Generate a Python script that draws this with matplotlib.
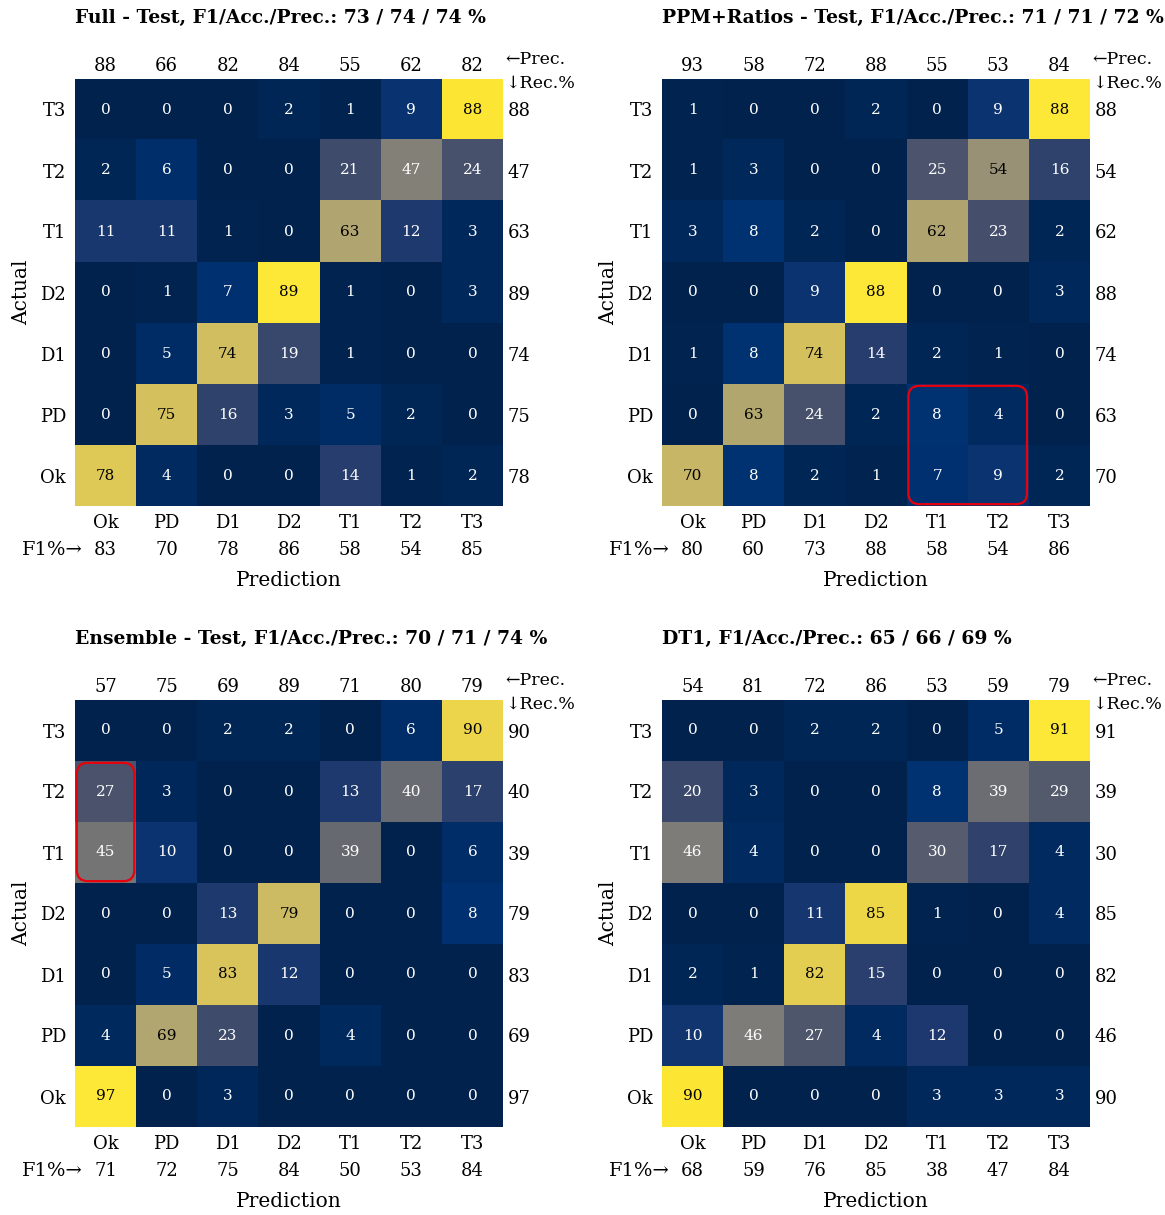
import numpy as np
import matplotlib.pyplot as plt
from matplotlib.patches import FancyBboxPatch

plt.rcParams['font.family'] = ['DejaVu Serif']

classes = ["Ok", "PD", "D1", "D2", "T1", "T2", "T3"]

# rows = actual class (Ok..T3), cols = predicted class (Ok..T3), row-normalised %
full_cm = [[78, 4, 0, 0, 14, 1, 2],
           [0, 75, 16, 3, 5, 2, 0],
           [0, 5, 74, 19, 1, 0, 0],
           [0, 1, 7, 89, 1, 0, 3],
           [11, 11, 1, 0, 63, 12, 3],
           [2, 6, 0, 0, 21, 47, 24],
           [0, 0, 0, 2, 1, 9, 88]]
full_prec = [88, 66, 82, 84, 55, 62, 82]
full_f1 = [83, 70, 78, 86, 58, 54, 85]
full_title = "Full - Test, F1/Acc./Prec.: 73 / 74 / 74 %"

ppm_cm = [[70, 8, 2, 1, 7, 9, 2],
          [0, 63, 24, 2, 8, 4, 0],
          [1, 8, 74, 14, 2, 1, 0],
          [0, 0, 9, 88, 0, 0, 3],
          [3, 8, 2, 0, 62, 23, 2],
          [1, 3, 0, 0, 25, 54, 16],
          [1, 0, 0, 2, 0, 9, 88]]
ppm_prec = [93, 58, 72, 88, 55, 53, 84]
ppm_f1 = [80, 60, 73, 88, 58, 54, 86]
ppm_title = "PPM+Ratios - Test, F1/Acc./Prec.: 71 / 71 / 72 %"

ens_cm = [[97, 0, 3, 0, 0, 0, 0],
          [4, 69, 23, 0, 4, 0, 0],
          [0, 5, 83, 12, 0, 0, 0],
          [0, 0, 13, 79, 0, 0, 8],
          [45, 10, 0, 0, 39, 0, 6],
          [27, 3, 0, 0, 13, 40, 17],
          [0, 0, 2, 2, 0, 6, 90]]
ens_prec = [57, 75, 69, 89, 71, 80, 79]
ens_f1 = [71, 72, 75, 84, 50, 53, 84]
ens_title = "Ensemble - Test, F1/Acc./Prec.: 70 / 71 / 74 %"

dt1_cm = [[90, 0, 0, 0, 3, 3, 3],
          [10, 46, 27, 4, 12, 0, 0],
          [2, 1, 82, 15, 0, 0, 0],
          [0, 0, 11, 85, 1, 0, 4],
          [46, 4, 0, 0, 30, 17, 4],
          [20, 3, 0, 0, 8, 39, 29],
          [0, 0, 2, 2, 0, 5, 91]]
dt1_prec = [54, 81, 72, 86, 53, 59, 79]
dt1_f1 = [68, 59, 76, 85, 38, 47, 84]
dt1_title = "DT1, F1/Acc./Prec.: 65 / 66 / 69 %"

# highlighted blocks: (col0, col1, row0, row1) in class indices
ppm_box = (4, 5, 0, 1)
ens_box = (0, 0, 4, 5)

fig = plt.figure(figsize=(11.65, 12.15), dpi=100)

W, H = 1165, 1215
aw, ah = 428 / W, 427 / H
pos = [(75 / W, 1 - 506 / H), (662 / W, 1 - 506 / H),
       (75 / W, 1 - 1127 / H), (662 / W, 1 - 1127 / H)]

panels = [(full_cm, full_prec, full_f1, full_title, None),
          (ppm_cm, ppm_prec, ppm_f1, ppm_title, ppm_box),
          (ens_cm, ens_prec, ens_f1, ens_title, ens_box),
          (dt1_cm, dt1_prec, dt1_f1, dt1_title, None)]

for i, (cm, prec, f1, title, box) in enumerate(panels):
    cm = np.array(cm)
    ax = fig.add_axes([pos[i][0], pos[i][1], aw, ah])
    vmax = cm.max()
    ax.imshow(cm, cmap='cividis', vmin=0, vmax=vmax, origin='lower',
              aspect='auto', extent=(-0.5, 6.5, -0.5, 6.5))
    for r in range(7):
        for c in range(7):
            v = cm[r, c]
            col = 'black' if v / vmax > 0.6 else 'white'
            ax.text(c, r, str(v), ha='center', va='center', color=col, fontsize=11)

    for s in ax.spines.values():
        s.set_visible(False)
    ax.set_xticks(range(7), classes)
    ax.set_yticks(range(7), classes)
    ax.tick_params(length=0, labelsize=13)
    ax.tick_params(axis='x', pad=6)
    ax.tick_params(axis='y', pad=6.5)
    ax.set_xlim(-0.5, 6.5)
    ax.set_ylim(-0.5, 6.5)

    top = ax.secondary_xaxis('top')
    top.set_xticks(range(7), [str(p) for p in prec])
    top.tick_params(length=0, labelsize=13, pad=3)
    top.spines['top'].set_visible(False)

    bot = ax.secondary_xaxis('bottom')
    bot.set_xticks(range(7), [str(p) for p in f1])
    bot.tick_params(length=0, labelsize=13, pad=25.5)
    bot.spines['bottom'].set_visible(False)

    right = ax.secondary_yaxis('right')
    right.set_yticks(range(7), [str(cm[k, k]) for k in range(7)])
    right.tick_params(length=0, labelsize=13, pad=3.5)
    right.spines['right'].set_visible(False)

    ax.set_xlabel("Prediction", fontsize=14.5, labelpad=28)
    ax.set_ylabel("Actual", fontsize=14.5, labelpad=6)

    ax.text(0, 1.143, title, transform=ax.transAxes, ha='left', va='center',
            fontsize=13.5, fontweight='bold')
    ax.text(1.005, 1.045, "\u2190Prec.", transform=ax.transAxes, ha='left',
            va='center', fontsize=12.5)
    ax.text(1.005, 0.99, "\u2193Rec.%", transform=ax.transAxes, ha='left',
            va='center', fontsize=12.5)
    ax.text(0.018, -0.103, "F1%\u2192", transform=ax.transAxes, ha='right',
            va='center', fontsize=14)

    if box is not None:
        c0, c1, r0, r1 = box
        p = 0.03
        ax.add_patch(FancyBboxPatch((c0 - 0.5 + p, r0 - 0.5 + p),
                                    c1 - c0 + 1 - 2 * p, r1 - r0 + 1 - 2 * p,
                                    boxstyle="round,pad=0,rounding_size=0.18",
                                    fill=False, edgecolor='#e8000b', linewidth=1.6,
                                    clip_on=False, zorder=5))

fig.savefig("out.png", dpi=100)
